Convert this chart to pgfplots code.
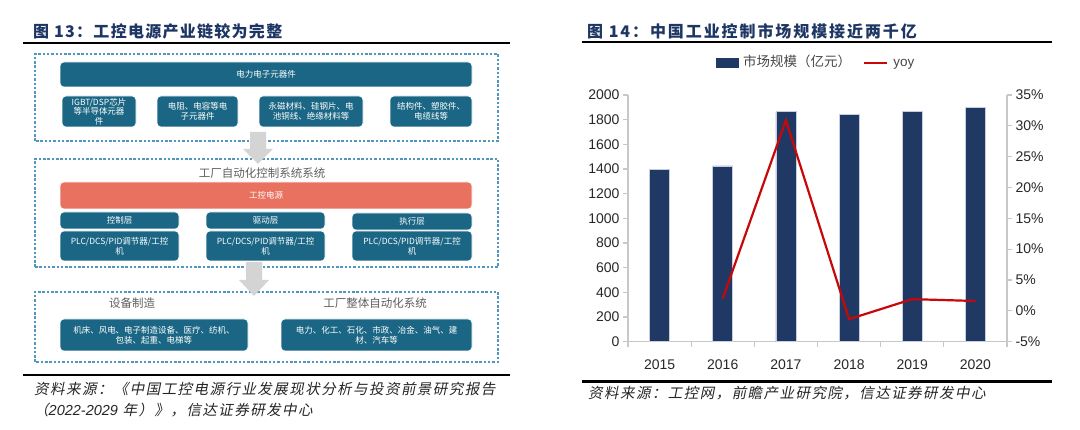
\documentclass[border=0pt]{standalone}
\usepackage{fontspec}
\usepackage{pgfplots}
\pgfplotsset{compat=1.18}
\setmainfont{Liberation Sans}
\newfontfamily\cjk{Noto Sans CJK SC}
\newfontfamily\titlefont[LetterSpace=8]{Noto Sans CJK SC}
\newfontfamily\titlefontb[LetterSpace=12]{Noto Sans CJK SC}
\newfontfamily\srcfont[FakeSlant=0.2,LetterSpace=10]{Noto Sans CJK SC}
\definecolor{titleblue}{RGB}{30,54,100}
\definecolor{boxteal}{RGB}{26,102,132}
\definecolor{boxorange}{RGB}{232,113,96}
\definecolor{dashblue}{RGB}{80,150,190}
\definecolor{arrowgray}{RGB}{212,212,212}
\definecolor{labgray}{RGB}{95,95,95}
\definecolor{barnavy}{RGB}{32,56,100}
\definecolor{baredge}{RGB}{196,206,222}
\definecolor{linered}{RGB}{200,8,8}
\definecolor{axisgray}{RGB}{200,200,200}
\definecolor{ticktext}{RGB}{40,40,40}
\begin{document}
\begin{tikzpicture}[x=1pt,y=1pt,
  tbox/.style={fill=boxteal, draw=white, line width=0.6pt, rounded corners=4pt, text=white,
    font=\cjk\fontsize{8.5}{9.6}\selectfont, align=center, inner sep=1pt},
  obox/.style={tbox, fill=boxorange},
  dbox/.style={draw=dashblue, line width=1.2pt, dash pattern=on 2.5pt off 1.8pt}]
\path[use as bounding box] (0,0) rectangle (1080,430);
\fill[white] (0,0) rectangle (1080,430);

% ---------------- left panel ----------------
\node[anchor=west, inner sep=0pt, text=titleblue] at (33,399)
  {\titlefont\bfseries\fontsize{16}{16}\selectfont 图 13：工控电源产业链较为完整};
\draw[black, line width=2.5pt] (23,387) -- (510,387);
\draw[black, line width=2.5pt] (23,55) -- (510,55);
\node[anchor=west, inner sep=0pt, text=black!85] at (34,41)
  {\srcfont\fontsize{14.5}{14.5}\selectfont 资料来源：《中国工控电源行业发展现状分析与投资前景研究报告};
\node[anchor=west, inner sep=0pt, text=black!85] at (34,20)
  {\srcfont\fontsize{14.5}{14.5}\selectfont （{\fontspec{Liberation Sans}\itshape\addfontfeature{LetterSpace=0}2022-2029} 年）》，信达证券研发中心};

% dashed boxes
\draw[dbox] (35,289) rectangle (498,376);
\draw[dbox] (35,163) rectangle (498,271);
\draw[dbox] (35,68) rectangle (498,138);

% arrows
\fill[arrowgray] (250,298) -- (266,298) -- (266,281) -- (273,281) -- (258,266) -- (243,281) -- (250,281) -- cycle;
\fill[arrowgray] (246,168) -- (262,168) -- (262,150) -- (269,150) -- (254,134) -- (239,150) -- (246,150) -- cycle;

% box 1
\node[tbox, minimum width=412pt, minimum height=25pt] at (266,355.5) {电力电子元器件};
\node[tbox, minimum width=74pt, minimum height=31pt] at (99,318.5) {IGBT/DSP芯片\\等半导体元器\\件};
\node[tbox, minimum width=81pt, minimum height=31pt] at (197.5,318.5) {电阻、电容等电\\子元器件};
\node[tbox, minimum width=104pt, minimum height=31pt] at (311,318.5) {永磁材料、硅钢片、电\\池铜线、绝缘材料等};
\node[tbox, minimum width=82pt, minimum height=31pt] at (431,318.5) {结构件、塑胶件、\\电缆线等};

% box 2
\node[text=labgray, font=\cjk\fontsize{11.5}{11.5}\selectfont, inner sep=0pt] at (262,257) {工厂自动化控制系统系统};
\node[obox, minimum width=412pt, minimum height=27pt] at (266,234.5) {工控电源};
\node[tbox, minimum width=119pt, minimum height=17pt] at (119.5,209.5) {控制层};
\node[tbox, minimum width=119pt, minimum height=17pt] at (265.5,209.5) {驱动层};
\node[tbox, minimum width=120pt, minimum height=17pt] at (412,208.5) {执行层};
\node[tbox, minimum width=119pt, minimum height=30pt] at (119.5,184) {PLC/DCS/PID调节器/工控\\机};
\node[tbox, minimum width=119pt, minimum height=30pt] at (265.5,184) {PLC/DCS/PID调节器/工控\\机};
\node[tbox, minimum width=120pt, minimum height=30pt] at (412,184) {PLC/DCS/PID调节器/工控\\机};

% box 3
\node[text=labgray, font=\cjk\fontsize{11.5}{11.5}\selectfont, inner sep=0pt] at (132,127) {设备制造};
\node[text=labgray, font=\cjk\fontsize{11.5}{11.5}\selectfont, inner sep=0pt] at (375,127) {工厂整体自动化系统};
\node[tbox, minimum width=188pt, minimum height=32pt] at (154,95) {机床、风电、电子制造设备、医疗、纺机、\\包装、起重、电梯等};
\node[tbox, minimum width=191pt, minimum height=32pt] at (376.5,95) {电力、化工、石化、市政、冶金、油气、建\\材、汽车等};

% ---------------- right panel ----------------
\node[anchor=west, inner sep=0pt, text=titleblue] at (587,399)
  {\titlefontb\bfseries\fontsize{16}{16}\selectfont 图 14：中国工业控制市场规模接近两千亿};
\draw[black, line width=2.5pt] (582,388) -- (1052,388);
\draw[black, line width=2.5pt] (582,48.5) -- (1052,48.5);
\node[anchor=west, inner sep=0pt, text=black!85] at (588,37)
  {\srcfont\fontsize{14.5}{14.5}\selectfont 资料来源：工控网，前瞻产业研究院，信达证券研发中心};

\begin{axis}[
  at={(628pt,88.3pt)}, anchor=south west,
  scale only axis, width=379pt, height=246.7pt,
  xmin=-0.5, xmax=5.5, ymin=0, ymax=2000,
  axis x line*=bottom, axis y line*=left,
  axis line style={draw=axisgray, line width=1.2pt, -},
  tick align=outside,
  major tick length=5pt,
  tick style={draw=axisgray, line width=1.2pt},
  xtick={-0.5,0.5,1.5,2.5,3.5,4.5,5.5}, xticklabels={},
  extra x ticks={0,1,2,3,4,5},
  extra x tick labels={2015,2016,2017,2018,2019,2020},
  extra x tick style={tick style={draw=none}, tick label style={yshift=-9pt}},
  ytick={0,200,...,2000},
  /pgf/number format/assume math mode=true,
  /pgf/number format/1000 sep={},
  tick label style={font=\fontsize{14}{14}\selectfont, text=ticktext},
  legend style={at={(0.496,1.13)}, anchor=center, draw=none, fill=none,
    legend columns=2, font=\fontsize{13.5}{13.5}\selectfont, text=ticktext!85,
    nodes={text height=10pt, text depth=3pt},
    /tikz/every odd column/.append style={column sep=3pt},
    /tikz/every even column/.append style={column sep=10pt}},
  clip=false,
]
\addplot[ybar, bar width=20pt, fill=barnavy, draw=baredge, line width=0.7pt,
  legend image code/.code={\fill[barnavy] (-2pt,-4.5pt) rectangle (20pt,4.5pt);}]
  coordinates {(0,1400) (1,1425) (2,1865) (3,1840) (4,1868) (5,1900)};
\addlegendentry{\cjk 市场规模（亿元）}
\addlegendimage{legend image code/.code={\draw[linered, line width=2.2pt] (-2pt,0pt) -- (21pt,0pt);}}
\addlegendentry{yoy}
\end{axis}

\begin{axis}[
  at={(628pt,88.3pt)}, anchor=south west,
  scale only axis, width=379pt, height=246.7pt,
  xmin=-0.5, xmax=5.5, ymin=-5, ymax=35,
  axis x line=none, axis y line*=right,
  axis line style={draw=axisgray, line width=1.2pt, -},
  tick align=outside,
  major tick length=5pt,
  tick style={draw=axisgray, line width=1.2pt},
  ytick={-5,0,...,35},
  yticklabel={\pgfmathprintnumber{\tick}\%},
  /pgf/number format/assume math mode=true,
  tick label style={font=\fontsize{14}{14}\selectfont, text=ticktext},
  clip=false,
]
\addplot[linered, line width=2.2pt, no marks]
  coordinates {(1,2.0) (2,30.9) (3,-1.35) (4,1.9) (5,1.6)};
\end{axis}
\end{tikzpicture}
\end{document}
